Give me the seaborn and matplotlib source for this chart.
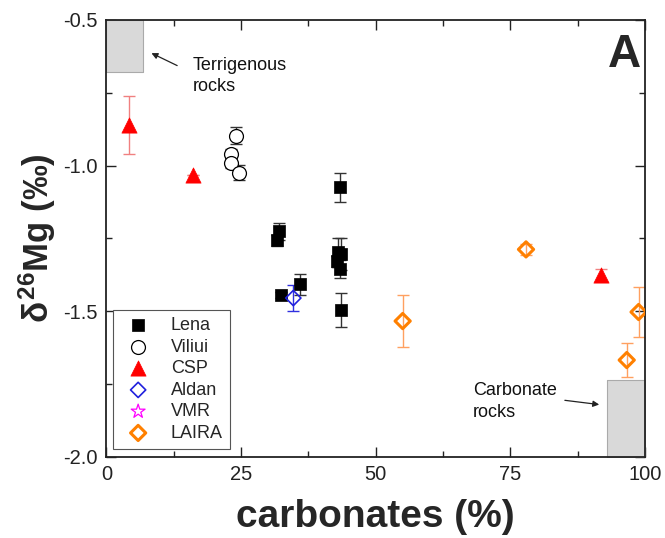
import numpy as np
import pandas as pd
import seaborn as sns
import matplotlib.pyplot as plt
from matplotlib.ticker import MultipleLocator

# data: carbonate content (%) vs d26Mg (permil)
lena_x = [31.7, 32.1, 32.4, 36.0, 43.3, 43.0, 43.5, 42.8, 43.3, 43.5]
lena_y = [-1.257, -1.226, -1.445, -1.408, -1.075, -1.298, -1.305, -1.329, -1.356, -1.497]
lena_err = [0.02, 0.03, 0.01, 0.035, 0.05, 0.05, 0.055, 0.02, 0.03, 0.058]

viliui_x = [24.1, 23.2, 23.2, 24.7]
viliui_y = [-0.897, -0.962, -0.990, -1.024]
viliui_err = [0.03, 0.02, 0.02, 0.025]

csp_x = [4.2, 16.0, 91.8]
csp_y = [-0.862, -1.034, -1.377]
csp_err = [0.10, 0.0, 0.02]

aldan_x = [34.7]
aldan_y = [-1.455]
aldan_err = [0.045]

laira_x = [55.0, 77.9, 98.8, 96.6]
laira_y = [-1.534, -1.288, -1.503, -1.668]
laira_err = [0.09, 0.02, 0.085, 0.058]

# reference end-member fields
terr_x = [0, 6.8]
terr_y = [-0.68, -0.5]
carb_x = [93.0, 100]
carb_y = [-2.0, -1.736]

sns.set_theme(style="ticks")
plt.rcParams['font.family'] = ['Liberation Sans', 'DejaVu Sans']
plt.rcParams['mathtext.fontset'] = 'custom'
plt.rcParams['mathtext.rm'] = 'Liberation Sans:bold'
plt.rcParams['mathtext.it'] = 'Liberation Sans:bold'
plt.rcParams['mathtext.bf'] = 'Liberation Sans:bold'

fig = plt.figure(figsize=(6.65, 5.38), dpi=100)
ax = fig.add_axes([0.160, 0.151, 0.810, 0.812])

# grey fields
ax.fill_between(terr_x, terr_y[0], terr_y[1], color='#d9d9d9', ec='#aaaaaa', lw=0.8, zorder=1)
ax.fill_between(carb_x, carb_y[0], carb_y[1], color='#d9d9d9', ec='#aaaaaa', lw=0.8, zorder=1)

# error bars
ekw = dict(fmt='none', capsize=4, elinewidth=1, capthick=1, zorder=2)
ax.errorbar(lena_x, lena_y, yerr=lena_err, ecolor='#333333', **ekw)
ax.errorbar(viliui_x, viliui_y, yerr=viliui_err, ecolor='#333333', **ekw)
ax.errorbar(csp_x, csp_y, yerr=csp_err, ecolor='#f08080', **ekw)
ax.errorbar(aldan_x, aldan_y, yerr=aldan_err, ecolor='#3030e0', **ekw)
ax.errorbar(laira_x, laira_y, yerr=laira_err, ecolor='#ffa060', **ekw)

sns.scatterplot(x=lena_x, y=lena_y, marker='s', s=80, color='black', edgecolor='black',
                linewidth=0.5, label='Lena', ax=ax, zorder=3)
sns.scatterplot(x=viliui_x, y=viliui_y, marker='o', s=100, color='white', edgecolor='black',
                linewidth=0.9, label='Viliui', ax=ax, zorder=3)
sns.scatterplot(x=csp_x, y=csp_y, marker='^', s=120, color='#ff0000', edgecolor='#ff0000',
                linewidth=0.5, label='CSP', ax=ax, zorder=3)
sns.scatterplot(x=aldan_x, y=aldan_y, marker='D', s=60, color='none', edgecolor='#2020dd',
                linewidth=1.2, label='Aldan', ax=ax, zorder=3)
ax.scatter([], [], marker='*', s=110, facecolor='none', edgecolor='#ff00ff', linewidth=0.9,
           label='VMR')
sns.scatterplot(x=laira_x, y=laira_y, marker='D', s=60, color='none', edgecolor='#ff8000',
                linewidth=2.2, label='LAIRA', ax=ax, zorder=3)

ax.set_xlim(0, 100)
ax.set_ylim(-2.0, -0.5)
ax.xaxis.set_major_locator(MultipleLocator(25))
ax.xaxis.set_minor_locator(MultipleLocator(12.5))
ax.yaxis.set_major_locator(MultipleLocator(0.5))
ax.yaxis.set_minor_locator(MultipleLocator(0.25))
ax.xaxis.set_major_formatter(plt.FuncFormatter(lambda v, p: f'{v:.0f}'))
ax.yaxis.set_major_formatter(plt.FuncFormatter(lambda v, p: f'{v:.1f}'))
ax.tick_params(which='both', direction='in', top=True, right=True, colors='#222222',
               labelsize=14.5, width=1)
ax.tick_params(which='major', length=7, pad=6)
ax.tick_params(which='minor', length=4)
for sp in ax.spines.values():
    sp.set_linewidth(1.3)
    sp.set_color('#222222')

ax.set_xlabel('carbonates (%)', fontsize=28, fontweight='bold', labelpad=11)
ax.set_ylabel(r'$\delta^{26}$Mg (‰)', fontsize=25, fontweight='bold', labelpad=4)

ax.annotate('', xy=(7.9, -0.61), xytext=(13.6, -0.661),
            arrowprops=dict(arrowstyle='-|>', color='#222222', lw=0.9, mutation_scale=9))
ax.text(16.0, -0.693, 'Terrigenous\nrocks', fontsize=13, va='center', ha='left',
        linespacing=1.35, color='#111111')
ax.annotate('', xy=(92.0, -1.822), xytext=(84.6, -1.805),
            arrowprops=dict(arrowstyle='-|>', color='#222222', lw=0.9, mutation_scale=9))
ax.text(68.0, -1.81, 'Carbonate\nrocks', fontsize=13, va='center', ha='left',
        linespacing=1.35, color='#111111')

ax.text(0.993, 0.97, 'A', transform=ax.transAxes, fontsize=33, fontweight='bold',
        ha='right', va='top')

leg = ax.legend(loc='lower left', bbox_to_anchor=(0.012, 0.018), borderaxespad=0,
                fontsize=13, frameon=True, fancybox=False, edgecolor='#555555',
                framealpha=1, labelspacing=0.25, handletextpad=0.8, borderpad=0.4,
                handlelength=2.0)
leg.get_frame().set_linewidth(0.8)

fig.savefig('out.png', dpi=100)
